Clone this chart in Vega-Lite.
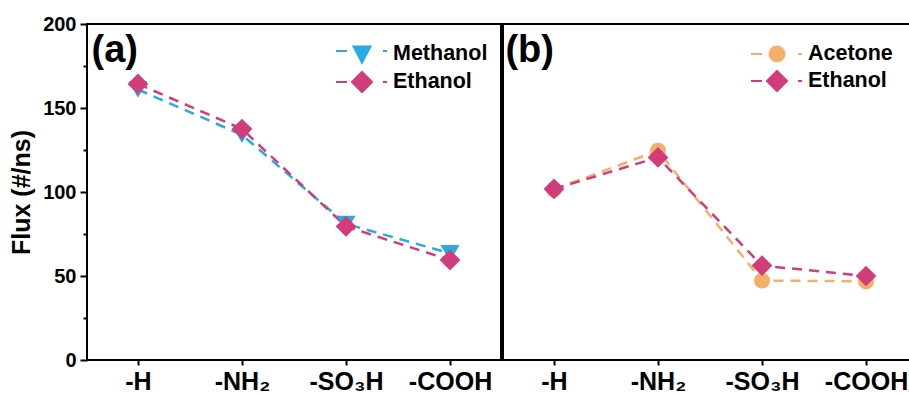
{
  "$schema": "https://vega.github.io/schema/vega-lite/v6.json",
  "padding": {"left": 8, "top": 13, "right": -7, "bottom": -1},
  "spacing": 0,
  "background": "white",
  "config": {
    "font": "Liberation Sans",
    "view": {"stroke": "black", "strokeWidth": 2},
    "axis": {
      "labelFont": "Liberation Sans",
      "labelFontWeight": "bold",
      "labelColor": "black",
      "tickColor": "black",
      "tickWidth": 2,
      "domain": false,
      "grid": false,
      "titleFont": "Liberation Sans",
      "titleFontWeight": "bold",
      "titleColor": "black"
    },
    "legend": {
      "labelFont": "Liberation Sans",
      "labelFontWeight": "bold",
      "labelFontSize": 21.5,
      "labelColor": "black",
      "symbolSize": 400,
      "symbolOffset": 16,
      "labelOffset": 20,
      "rowPadding": 1,
      "padding": 0,
      "symbolStrokeWidth": 2
    }
  },
  "datasets": {
    "a": [
      {"group": "-H", "solvent": "Methanol", "flux": 161},
      {"group": "-NH₂", "solvent": "Methanol", "flux": 134},
      {"group": "-SO₃H", "solvent": "Methanol", "flux": 81},
      {"group": "-COOH", "solvent": "Methanol", "flux": 63.5},
      {"group": "-H", "solvent": "Ethanol", "flux": 164.3},
      {"group": "-NH₂", "solvent": "Ethanol", "flux": 137.5},
      {"group": "-SO₃H", "solvent": "Ethanol", "flux": 79.5},
      {"group": "-COOH", "solvent": "Ethanol", "flux": 59.5}
    ],
    "b": [
      {"group": "-H", "solvent": "Acetone", "flux": 101.5},
      {"group": "-NH₂", "solvent": "Acetone", "flux": 124.6},
      {"group": "-SO₃H", "solvent": "Acetone", "flux": 47.3},
      {"group": "-COOH", "solvent": "Acetone", "flux": 46.8},
      {"group": "-H", "solvent": "Ethanol", "flux": 101.8},
      {"group": "-NH₂", "solvent": "Ethanol", "flux": 120.6},
      {"group": "-SO₃H", "solvent": "Ethanol", "flux": 56.2},
      {"group": "-COOH", "solvent": "Ethanol", "flux": 50}
    ],
    "labelA": [{"panel": "(a)"}],
    "labelB": [{"panel": "(b)"}]
  },
  "resolve": {"scale": {"color": "independent"}, "legend": {"color": "independent"}},
  "hconcat": [
    {
      "width": 414,
      "height": 336,
      "layer": [
        {
          "data": {"name": "a"},
          "encoding": {
            "x": {
              "field": "group", "type": "ordinal",
              "sort": ["-H", "-NH₂", "-SO₃H", "-COOH"],
              "scale": {"type": "point", "padding": 0.49},
              "axis": {"title": null, "labelAngle": 0, "labelFontSize": 25, "tickSize": 5, "labelPadding": 4}
            },
            "y": {
              "field": "flux", "type": "quantitative",
              "scale": {"domain": [0, 200], "nice": false},
              "axis": {
                "title": "Flux (#/ns)", "titleFontSize": 25, "titlePadding": 8,
                "values": [0, 25, 50, 75, 100, 125, 150, 175, 200],
                "labelExpr": "datum.value % 50 === 0 ? datum.label : ''",
                "tickSize": {"condition": {"test": "datum.value % 50 === 0", "value": 7}, "value": 4},
                "labelFontSize": 20, "labelPadding": 4
              }
            },
            "color": {
              "field": "solvent", "type": "nominal",
              "scale": {"domain": ["Methanol", "Ethanol"], "range": ["#29aae2", "#d13c7b"]},
              "legend": {
                "title": null, "orient": "none", "legendX": 248, "legendY": 19,
                "encode": {
                  "symbols": {
                    "update": {
                      "shape": {"signal": "datum.value === 'Methanol' ? 'M-2.6,-0.3L-1.5,-0.3M2.1,-0.3L2.5,-0.3M-0.85,-0.75L0.85,-0.75L0,0.85Z' : 'M-2.6,0L-1.5,0M2.1,0L2.5,0M-1,0L0,-1L1,0L0,1Z'"},
                      "strokeWidth": {"value": 2}
                    }
                  }
                }
              }
            }
          },
          "layer": [
            {"mark": {"type": "line", "strokeDash": [10, 7], "strokeWidth": 2.5}},
            {
              "transform": [{"filter": "datum.solvent === 'Methanol'"}],
              "mark": {"type": "point", "filled": true, "opacity": 1, "shape": "triangle-down", "size": 360}
            },
            {
              "transform": [{"filter": "datum.solvent === 'Ethanol'"}],
              "mark": {"type": "point", "filled": true, "opacity": 1, "shape": "diamond", "size": 430}
            }
          ]
        },
        {
          "data": {"name": "labelA"},
          "mark": {"type": "text", "font": "Liberation Sans", "fontSize": 38, "fontWeight": "bold", "align": "right", "baseline": "alphabetic", "color": "black"},
          "encoding": {
            "x": {"datum": "-H", "type": "ordinal"},
            "y": {"datum": 177.5, "type": "quantitative"},
            "text": {"field": "panel", "type": "nominal"}
          }
        }
      ]
    },
    {
      "width": 414,
      "height": 336,
      "layer": [
        {
          "data": {"name": "b"},
          "encoding": {
            "x": {
              "field": "group", "type": "ordinal",
              "sort": ["-H", "-NH₂", "-SO₃H", "-COOH"],
              "scale": {"type": "point", "padding": 0.49},
              "axis": {"title": null, "labelAngle": 0, "labelFontSize": 25, "tickSize": 5, "labelPadding": 4}
            },
            "y": {
              "field": "flux", "type": "quantitative",
              "scale": {"domain": [0, 200], "nice": false},
              "axis": null
            },
            "color": {
              "field": "solvent", "type": "nominal",
              "scale": {"domain": ["Acetone", "Ethanol"], "range": ["#f5af6c", "#d13c7b"]},
              "legend": {
                "title": null, "orient": "none", "legendX": 247, "legendY": 19,
                "encode": {
                  "symbols": {
                    "update": {
                      "shape": {"signal": "datum.value === 'Acetone' ? 'M-2.6,0L-1.5,0M2.1,0L2.5,0M-0.75,0A0.75,0.75,0,1,1,0.75,0A0.75,0.75,0,1,1,-0.75,0Z' : 'M-2.6,0L-1.5,0M2.1,0L2.5,0M-1,0L0,-1L1,0L0,1Z'"},
                      "strokeWidth": {"value": 2}
                    }
                  }
                }
              }
            }
          },
          "layer": [
            {"mark": {"type": "line", "strokeDash": [10, 7], "strokeWidth": 2.5}},
            {
              "transform": [{"filter": "datum.solvent === 'Acetone'"}],
              "mark": {"type": "point", "filled": true, "opacity": 1, "shape": "circle", "size": 256}
            },
            {
              "transform": [{"filter": "datum.solvent === 'Ethanol'"}],
              "mark": {"type": "point", "filled": true, "opacity": 1, "shape": "diamond", "size": 430}
            }
          ]
        },
        {
          "data": {"name": "labelB"},
          "mark": {"type": "text", "font": "Liberation Sans", "fontSize": 38, "fontWeight": "bold", "align": "right", "baseline": "alphabetic", "color": "black"},
          "encoding": {
            "x": {"datum": "-H", "type": "ordinal"},
            "y": {"datum": 177.5, "type": "quantitative"},
            "text": {"field": "panel", "type": "nominal"}
          }
        }
      ]
    }
  ]
}
